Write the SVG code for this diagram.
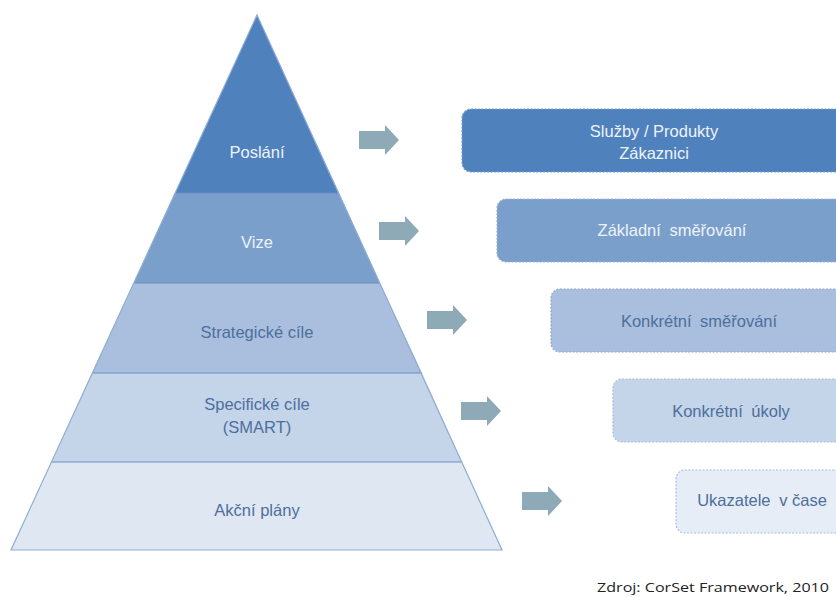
<svg xmlns="http://www.w3.org/2000/svg" width="836" height="597" viewBox="0 0 836 597">
<defs>
<style>
.t{font-family:"Liberation Sans",Arial,sans-serif;font-size:16.5px;text-anchor:middle;dominant-baseline:central}
.w{fill:#eef3f9}
.d{fill:#4d6f9c}
.sep{stroke:#6a8fbf;stroke-width:1.2;fill:none}
.arr{fill:#8eaab6}
.box{stroke-dasharray:2 1.5;stroke-width:1.2}
</style>
<path id="arrow" d="M0,-9 H26 V-15 L40,0 L26,15 V9 H0 Z"/>
</defs>
<rect width="836" height="597" fill="#ffffff"/>
<g id="pyramid">
<g id="level-poslani">
<polygon points="257,15 339,193 175,193" fill="#4f81bd"/>
<text class="t w" x="257" y="152">Poslání</text>
</g>
<g id="level-vize">
<polygon points="175,193 339,193 380,283 134,283" fill="#7a9fcb"/>
<text class="t w" x="257" y="242">Vize</text>
</g>
<g id="level-strategicke">
<polygon points="134,283 380,283 422,373 92,373" fill="#a9bfdd"/>
<text class="t d" x="257" y="332">Strategické cíle</text>
</g>
<g id="level-specificke">
<polygon points="92,373 422,373 462,462 52,462" fill="#c4d4e9"/>
<text class="t d" x="257" y="404">Specifické cíle</text>
<text class="t d" x="257" y="427">(SMART)</text>
</g>
<g id="level-akcni">
<polygon points="52,462 462,462 502,550 11,550" fill="#dfe7f2"/>
<text class="t d" x="257" y="510">Akční plány</text>
</g>
<polyline class="sep" points="175,193 339,193"/>
<polyline class="sep" points="134,283 380,283"/>
<polyline class="sep" points="92,373 422,373"/>
<polyline class="sep" points="52,462 462,462"/>
<polygon points="257,15 502,550 11,550" fill="none" stroke="#8fadd3" stroke-width="1.2"/>
</g>
<g id="connectors">
<use href="#arrow" class="arr" x="359" y="140"/>
<use href="#arrow" class="arr" x="379" y="231"/>
<use href="#arrow" class="arr" x="427" y="320"/>
<use href="#arrow" class="arr" x="461" y="411"/>
<use href="#arrow" class="arr" x="522" y="501"/>
</g>
<g id="box-sluzby">
<rect class="box" x="462" y="109" width="400" height="63" rx="9" fill="#4f81bd" stroke="#7b9ed0"/>
<text class="t w" x="654" y="131">Služby / Produkty</text>
<text class="t w" x="654" y="153">Zákaznici</text>
</g>
<g id="box-zakladni">
<rect class="box" x="497" y="199" width="400" height="63" rx="9" fill="#7a9fcb" stroke="#9ab6da"/>
<text class="t w" x="672" y="230" word-spacing="4">Základní směřování</text>
</g>
<g id="box-konkretni-smer">
<rect class="box" x="551" y="289" width="400" height="63" rx="9" fill="#a9bfdd" stroke="#8eaad2"/>
<text class="t d" x="699" y="321" word-spacing="4">Konkrétní směřování</text>
</g>
<g id="box-ukoly">
<rect class="box" x="613" y="379" width="400" height="63" rx="9" fill="#c4d4e9" stroke="#a7bfde"/>
<text class="t d" x="731" y="411" word-spacing="4">Konkrétní úkoly</text>
</g>
<g id="box-ukazatele">
<rect class="box" x="676" y="470" width="400" height="63" rx="9" fill="#e6edf6" stroke="#a7bfde"/>
<text class="t d" x="762" y="500">Ukazatele <tspan dx="4">v čase</tspan></text>
</g>
<text x="597" y="592" font-family="'Open Sans','Liberation Sans',sans-serif" font-size="13.5" fill="#222" textLength="232" lengthAdjust="spacingAndGlyphs">Zdroj: CorSet Framework, 2010</text>
</svg>
